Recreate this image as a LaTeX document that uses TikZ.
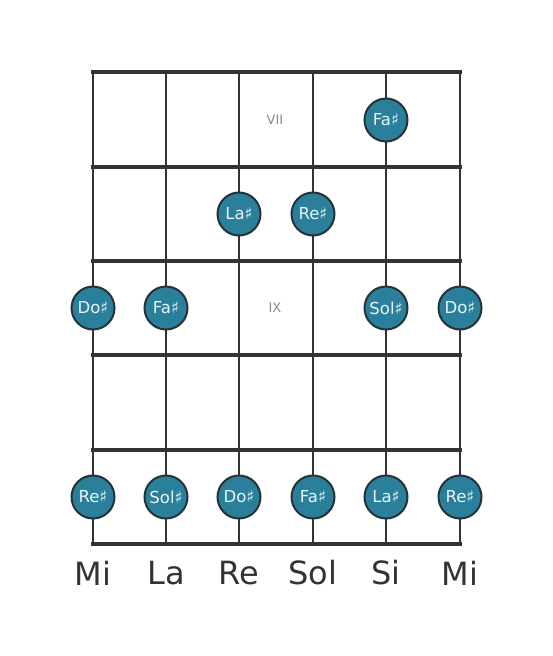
\documentclass[tikz,border=0pt]{standalone}
\usepackage{fontspec}
\setmainfont{DejaVu Sans}
\usetikzlibrary{positioning}
\definecolor{wire}{HTML}{333333}
\definecolor{dot}{HTML}{2A809B}
\definecolor{dotline}{HTML}{263238}
\definecolor{dottext}{HTML}{E6F4F7}
\definecolor{fretnum}{HTML}{8A8A8A}

\begin{document}
\begin{tikzpicture}[
    x=1pt, y=-1pt,
    fretline/.style={draw=wire, line width=4pt},
    stringline/.style={draw=wire, line width=2.6pt},
    note/.style={circle, draw=dotline, line width=2pt, fill=dot, minimum size=43pt, inner sep=0pt, text=dottext, font=\fontsize{16.5}{16.5}\selectfont},
    tuning/.style={text=wire, font=\fontsize{32}{32}\selectfont},
    fretlabel/.style={text=fretnum, font=\fontsize{13}{13}\selectfont}
]
\useasboundingbox (0,0) rectangle (553,656);

% Strings
\foreach \s/\x in {1/93,2/166,3/239,4/313,5/386,6/460} {
    \coordinate (top\s) at (\x,72);
    \coordinate (bot\s) at (\x,544);
    \draw[stringline] (top\s) -- (bot\s);
}

% Frets
\foreach \f/\y in {0/72,1/167,2/261,3/355,4/450,5/544} {
    \draw[fretline] (91,\y) -- (462,\y);
}

% Fret numbers
\node[fretlabel] (vii) at (275,120) {VII};
\node[fretlabel] (ix) at (275,308) {IX};

% Notes
\node[note] (n1) at (386,120) {Fa♯};
\node[note] (n2) at (239,214) {La♯};
\node[note] (n3) at (313,214) {Re♯};
\node[note] (n4) at (93,308) {Do♯};
\node[note] (n5) at (166,308) {Fa♯};
\node[note] (n6) at (386,308) {Sol♯};
\node[note] (n7) at (460,308) {Do♯};
\foreach \x/\t [count=\i] in {93/Re♯,166/Sol♯,239/Do♯,313/Fa♯,386/La♯,460/Re♯} {
    \node[note] (low\i) at (\x,497) {\t};
}

% Tuning
\foreach \x/\t [count=\i] in {93/Mi,166/La,239/Re,313/Sol,386/Si,460/Mi} {
    \node[tuning] (tune\i) at (\x,573) {\t};
}

\end{tikzpicture}
\end{document}
